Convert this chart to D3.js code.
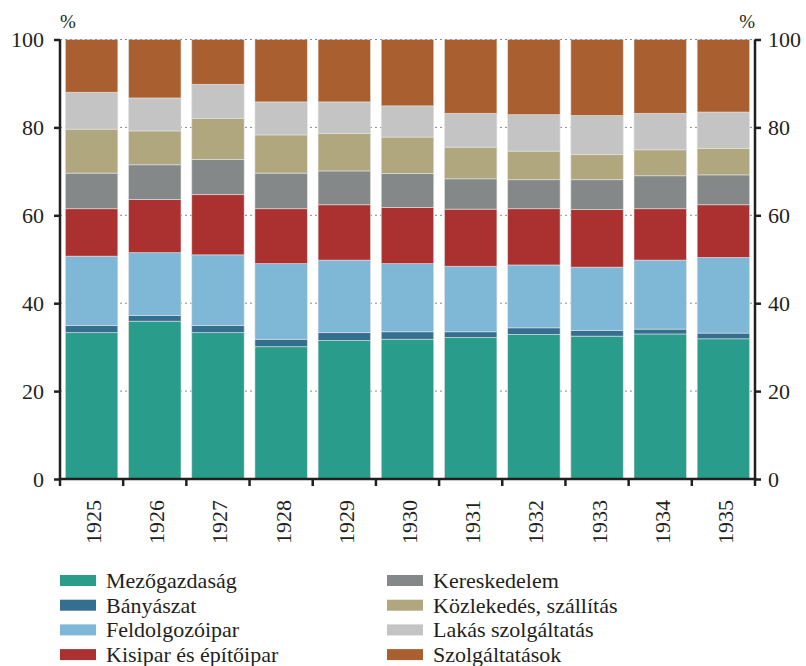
<!DOCTYPE html>
<html>
<head>
<meta charset="utf-8">
<script src="https://cdn.jsdelivr.net/npm/d3@7"></script>
<style>
  body { margin: 0; background: #fff; }
</style>
</head>
<body>
<div id="chart"></div>
<script>
// years and sector shares (%)
const years = ["1925", "1926", "1927", "1928", "1929", "1930", "1931", "1932", "1933", "1934", "1935"];

const sectors = ["Mezőgazdaság", "Bányászat", "Feldolgozóipar", "Kisipar és építőipar",
                 "Kereskedelem", "Közlekedés, szállítás", "Lakás szolgáltatás", "Szolgáltatások"];

const colors = ["#2a9c8b", "#356f8f", "#7fb7d6", "#ab3130", "#858888", "#b0a77f", "#c3c4c3", "#a95f2f"];

const mezogazdasag = [33.3, 35.9, 33.3, 30.1, 31.5, 31.8, 32.2, 32.9, 32.5, 33.0, 31.9];
const banyaszat    = [1.6, 1.3, 1.6, 1.7, 1.8, 1.7, 1.3, 1.5, 1.3, 1.1, 1.3];
const feldolgozo   = [15.8, 14.3, 16.1, 17.2, 16.5, 15.5, 14.9, 14.3, 14.4, 15.7, 17.2];
const kisipar      = [10.8, 12.1, 13.7, 12.5, 12.6, 12.8, 13.0, 12.8, 13.1, 11.7, 12.0];
const kereskedelem = [8.1, 7.9, 8.0, 8.1, 7.7, 7.7, 6.9, 6.6, 6.8, 7.5, 6.8];
const kozlekedes   = [10.0, 7.7, 9.3, 8.7, 8.5, 8.3, 7.2, 6.5, 5.7, 5.9, 6.0];
const lakas        = [8.4, 7.5, 7.8, 7.5, 7.2, 7.1, 7.7, 8.3, 8.9, 8.3, 8.3];
const szolgaltatas = [12.0, 13.3, 10.2, 14.2, 14.2, 15.1, 16.8, 17.1, 17.3, 16.8, 16.5];

const yTicks = [0, 20, 40, 60, 80, 100];

const series = [mezogazdasag, banyaszat, feldolgozo, kisipar, kereskedelem, kozlekedes, lakas, szolgaltatas];

const FONT = "Liberation Serif";
const INK = "#231f20";

const rows = years.map((yr, i) => {
    const r = {year: yr};
    sectors.forEach((s, j) => { r[s] = series[j][i]; });
    return r;
});

const W = 806, H = 666;
const plotLeft = 60, plotRight = 755, plotTop = 39.5, plotBottom = 479;

const svg = d3.select("#chart").append("svg")
    .attr("width", W)
    .attr("height", H)
    .attr("font-family", FONT);

const x = d3.scaleBand()
    .domain(years)
    .range([plotLeft, plotRight])
    .paddingInner(0.17)
    .paddingOuter(0.085);

const y = d3.scaleLinear()
    .domain([0, 100])
    .range([plotBottom, plotTop]);

const stacked = d3.stack().keys(sectors)(rows);

// dotted grid behind the bars
svg.append("g")
    .selectAll("line")
    .data(yTicks.filter(d => d > 0))
    .enter().append("line")
    .attr("x1", plotLeft).attr("x2", plotRight)
    .attr("y1", d => y(d)).attr("y2", d => y(d))
    .attr("stroke", "#8a8a8a")
    .attr("stroke-width", 1)
    .attr("stroke-dasharray", "2,3");

const layers = svg.append("g")
    .selectAll("g")
    .data(stacked)
    .enter().append("g")
    .attr("fill", (d, i) => colors[i]);

layers.selectAll("rect")
    .data(d => d)
    .enter().append("rect")
    .attr("x", d => x(d.data.year))
    .attr("width", x.bandwidth())
    .attr("y", d => y(d[1]))
    .attr("height", d => y(d[0]) - y(d[1]))
    .attr("stroke", "#e6e6e6")
    .attr("stroke-opacity", 0.7)
    .attr("stroke-width", 0.8);

// top gridline sits over the bar tops
svg.append("line")
    .attr("x1", plotLeft).attr("x2", plotRight)
    .attr("y1", y(100)).attr("y2", y(100))
    .attr("stroke", "#8a8a8a")
    .attr("stroke-opacity", 0.8)
    .attr("stroke-width", 1)
    .attr("stroke-dasharray", "2,3");

// y axes both sides
const yAxisL = d3.axisLeft(y).tickValues(yTicks).tickSize(6).tickPadding(10);
const yAxisR = d3.axisRight(y).tickValues(yTicks).tickSize(6).tickPadding(7);

const gl = svg.append("g").attr("transform", `translate(${plotLeft},0)`).call(yAxisL);
const gr = svg.append("g").attr("transform", `translate(${plotRight},0)`).call(yAxisR);

[gl, gr].forEach(g => {
    g.attr("font-family", FONT).attr("font-size", 22);
    g.select(".domain").attr("stroke", INK).attr("stroke-width", 2.5)
        .attr("d", `M0,${plotTop}V${plotBottom + 1}`);
    g.selectAll(".tick line").attr("stroke", INK).attr("stroke-width", 2.5);
    g.selectAll(".tick text")
        .attr("font-family", FONT)
        .attr("font-size", 22)
        .attr("fill", INK)
        .attr("dy", "0.34em");
});

// bottom axis: ticks at the band boundaries, labels rotated
const step = x.step();
const bounds = d3.range(years.length + 1).map(i => plotLeft + i * step);

svg.append("line")
    .attr("x1", plotLeft - 1.25).attr("x2", plotRight + 1.25)
    .attr("y1", plotBottom).attr("y2", plotBottom)
    .attr("stroke", INK)
    .attr("stroke-width", 2.5);

svg.append("g")
    .selectAll("line")
    .data(bounds)
    .enter().append("line")
    .attr("x1", d => d).attr("x2", d => d)
    .attr("y1", plotBottom).attr("y2", plotBottom + 7)
    .attr("stroke", INK)
    .attr("stroke-width", 2.5);

svg.append("g")
    .selectAll("text")
    .data(years)
    .enter().append("text")
    .attr("transform", d => `translate(${x(d) + x.bandwidth() / 2 + 9.5},${plotBottom + 21}) rotate(-90)`)
    .attr("text-anchor", "end")
    .attr("fill", INK)
    .attr("font-family", FONT)
    .attr("font-size", 22)
    .text(d => d);

// % unit labels
svg.append("text")
    .attr("x", plotLeft).attr("y", 28)
    .attr("fill", INK)
    .attr("font-family", FONT)
    .attr("font-size", 19)
    .text("%");
svg.append("text")
    .attr("x", plotRight).attr("y", 28)
    .attr("text-anchor", "end")
    .attr("fill", INK)
    .attr("font-family", FONT)
    .attr("font-size", 19)
    .text("%");

// legend, two columns of four
const legend = svg.append("g")
    .selectAll("g")
    .data(sectors)
    .enter().append("g")
    .attr("transform", (d, i) => `translate(${i < 4 ? 60 : 387},${575 + (i % 4) * 24.7})`);

legend.append("rect")
    .attr("width", 36)
    .attr("height", 11)
    .attr("fill", (d, i) => colors[i]);

legend.append("text")
    .attr("x", 46)
    .attr("y", 5.5)
    .attr("dy", "0.34em")
    .attr("fill", INK)
    .attr("font-family", FONT)
    .attr("font-size", 22)
    .text(d => d);
</script>
</body>
</html>
